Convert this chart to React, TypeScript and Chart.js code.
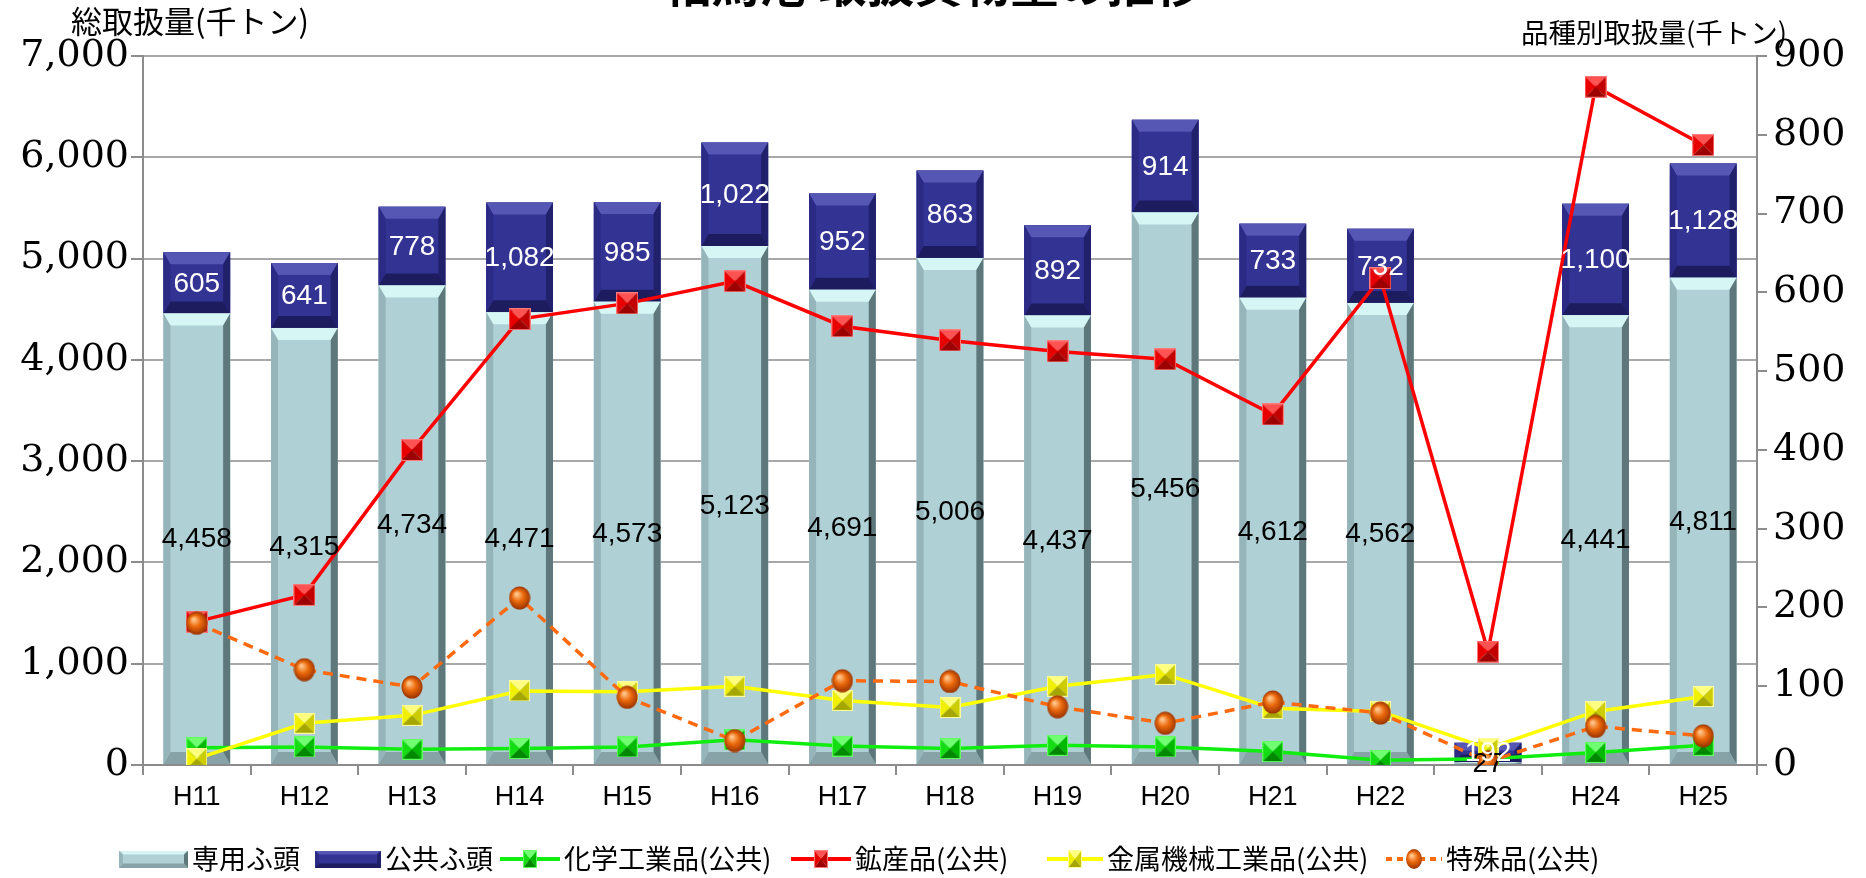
import React, { useEffect, useRef } from "react";
import { Chart, registerables } from "chart.js";

Chart.register(...registerables);

const TITLE = "相馬港 取扱貨物量の推移";
const LEFT_AXIS_TITLE = "総取扱量(千トン)";
const RIGHT_AXIS_TITLE = "品種別取扱量(千トン)";

const categories = ["H11", "H12", "H13", "H14", "H15", "H16", "H17", "H18", "H19", "H20", "H21", "H22", "H23", "H24", "H25"];
const senyoFuto = [4458, 4315, 4734, 4471, 4573, 5123, 4691, 5006, 4437, 5456, 4612, 4562, 27, 4441, 4811];
const kokyoFuto = [605, 641, 778, 1082, 985, 1022, 952, 863, 892, 914, 733, 732, 192, 1100, 1128];
const kagaku = [22, 23, 20, 21, 23, 32, 24, 21, 25, 23, 17, 6, 8, 16, 25];
const kosan = [182, 216, 400, 566, 586, 614, 557, 539, 525, 515, 445, 618, 144, 861, 787];
const kinzoku = [8, 53, 63, 94, 93, 100, 82, 73, 100, 115, 72, 68, 21, 68, 87];
const tokushu = [180, 121, 99, 212, 86, 31, 107, 106, 74, 53, 80, 66, 4, 49, 37];

const seriesNames = ["専用ふ頭", "公共ふ頭", "化学工業品(公共)", "鉱産品(公共)", "金属機械工業品(公共)", "特殊品(公共)"];

const leftMax = 7000;
const leftStep = 1000;
const rightMax = 900;
const rightStep = 100;

const SANS = "'Liberation Sans', Arial, sans-serif";
const SERIF = "'DejaVu Serif', 'Liberation Serif', serif";
const JP = "'Noto Sans CJK JP', 'Noto Sans', sans-serif";

// legend item left edges (layout only)
const LEGEND_X = [119, 315, 500, 791, 1047, 1386];

type Bevel = { face: string; top: string; left: string; right: string; bottom: string };
const TEAL: Bevel = { face: "#afd0d5", top: "#d6f6f6", left: "#95b5ba", right: "#5d777b", bottom: "#88a3a7" };
const NAVY: Bevel = { face: "#333394", top: "#5656b4", left: "#2b2b86", right: "#20206b", bottom: "#1c1c5e" };

type Pyr = { top: string; left: string; right: string; bottom: string; edge: string };
const RED_M: Pyr = { top: "#ff5252", left: "#e80000", right: "#c20000", bottom: "#9c0000", edge: "#ff7a7a" };
const GREEN_M: Pyr = { top: "#70ff70", left: "#14dd14", right: "#00b800", bottom: "#008800", edge: "#60ff60" };
const YELLOW_M: Pyr = { top: "#ffff80", left: "#f0f000", right: "#cccc00", bottom: "#a6a600", edge: "#ffff99" };

function mk(w: number, h: number) {
  const c = document.createElement("canvas");
  c.width = w;
  c.height = h;
  return c;
}

function poly(ctx: CanvasRenderingContext2D, pts: number[][], color: string) {
  ctx.beginPath();
  ctx.moveTo(pts[0][0], pts[0][1]);
  for (let i = 1; i < pts.length; i++) ctx.lineTo(pts[i][0], pts[i][1]);
  ctx.closePath();
  ctx.fillStyle = color;
  ctx.fill();
}

function drawBevel(ctx: CanvasRenderingContext2D, l: number, t: number, r: number, b: number, c: Bevel, sx0: number, sy0: number) {
  const w = r - l;
  const h = b - t;
  if (w <= 0 || h <= 0) return;
  const sx = Math.min(sx0, w / 3);
  const sy = Math.min(sy0, h / 2.5);
  ctx.fillStyle = c.face;
  ctx.fillRect(l, t, w, h);
  poly(ctx, [[l, t], [r, t], [r - sx, t + sy], [l + sx, t + sy]], c.top);
  poly(ctx, [[l, b], [r, b], [r - sx, b - sy], [l + sx, b - sy]], c.bottom);
  poly(ctx, [[l, t], [l + sx, t + sy], [l + sx, b - sy], [l, b]], c.left);
  poly(ctx, [[r, t], [r - sx, t + sy], [r - sx, b - sy], [r, b]], c.right);
}

function drawPyramid(ctx: CanvasRenderingContext2D, x: number, y: number, w: number, h: number, c: Pyr) {
  const cx = x + w / 2;
  const cy = y + h / 2;
  poly(ctx, [[x, y], [x + w, y], [cx, cy]], c.top);
  poly(ctx, [[x, y], [cx, cy], [x, y + h]], c.left);
  poly(ctx, [[x + w, y], [x + w, y + h], [cx, cy]], c.right);
  poly(ctx, [[x, y + h], [cx, cy], [x + w, y + h]], c.bottom);
  ctx.strokeStyle = c.edge;
  ctx.lineWidth = 1;
  ctx.strokeRect(x + 0.5, y + 0.5, w - 1, h - 1);
}

function pyramidMarker(c: Pyr, w: number, h: number) {
  const cv = mk(w, h);
  drawPyramid(cv.getContext("2d")!, 0, 0, w, h, c);
  return cv;
}

function drawSphere(ctx: CanvasRenderingContext2D, cx: number, cy: number, rx: number, ry: number) {
  const g = ctx.createRadialGradient(cx - rx * 0.3, cy - ry * 0.35, 1, cx, cy, Math.max(rx, ry));
  g.addColorStop(0, "#ffc58a");
  g.addColorStop(0.45, "#ec6a0c");
  g.addColorStop(1, "#983200");
  ctx.beginPath();
  ctx.ellipse(cx, cy, rx, ry, 0, 0, Math.PI * 2);
  ctx.fillStyle = g;
  ctx.fill();
}

function sphereMarker(w: number, h: number) {
  const cv = mk(w, h);
  drawSphere(cv.getContext("2d")!, w / 2, h / 2, w / 2 - 0.5, h / 2 - 0.5);
  return cv;
}

function legendBox(c: Bevel, w: number, h: number) {
  const cv = mk(w, h);
  drawBevel(cv.getContext("2d")!, 0, 0, w, h, c, 4, 4);
  return cv;
}

function legendLine(color: string, dash: number[], marker: (ctx: CanvasRenderingContext2D, cx: number, cy: number) => void, w: number, h: number) {
  const cv = mk(w, h);
  const ctx = cv.getContext("2d")!;
  ctx.strokeStyle = color;
  ctx.lineWidth = 4;
  ctx.setLineDash(dash);
  ctx.beginPath();
  ctx.moveTo(0, h / 2);
  ctx.lineTo(w, h / 2);
  ctx.stroke();
  ctx.setLineDash([]);
  marker(ctx, w / 2, h / 2);
  return cv;
}

const fmt = (v: number) => v.toLocaleString("en-US");

export default function App() {
  const ref = useRef<HTMLCanvasElement | null>(null);

  useEffect(() => {
    document.body.style.margin = "0";
    const canvas = ref.current!;

    const redM = pyramidMarker(RED_M, 22, 22);
    const greenM = pyramidMarker(GREEN_M, 21, 21);
    const yellowM = pyramidMarker(YELLOW_M, 21, 21);
    const orangeM = sphereMarker(22, 24);

    const legendImgs = [
      legendBox(TEAL, 69, 17),
      legendBox(NAVY, 66, 17),
      legendLine("#10ee10", [], (c, x, y) => drawPyramid(c, x - 7, y - 9, 14, 18, GREEN_M), 60, 24),
      legendLine("#ff0000", [], (c, x, y) => drawPyramid(c, x - 7, y - 9, 14, 18, RED_M), 60, 24),
      legendLine("#ffff00", [], (c, x, y) => drawPyramid(c, x - 7, y - 9, 14, 18, YELLOW_M), 56, 24),
      legendLine("#ff6a10", [6, 5], (c, x, y) => drawSphere(c, x, y, 8, 10), 56, 24),
    ];

    const bevelPlugin = {
      id: "bevelBars",
      afterDatasetDraw(chart: any, args: any) {
        if (args.index > 1) return;
        const ctx = chart.ctx as CanvasRenderingContext2D;
        const col = args.index === 0 ? TEAL : NAVY;
        ctx.save();
        args.meta.data.forEach((el: any) => {
          const p = el.getProps(["x", "y", "base", "width"], true);
          const l = p.x - p.width / 2;
          const r = p.x + p.width / 2;
          const t = Math.min(p.y, p.base);
          const b = Math.max(p.y, p.base);
          drawBevel(ctx, l, t, r, b, col, 7, 12);
        });
        ctx.restore();
      },
    };

    const labelPlugin = {
      id: "barLabels",
      afterDatasetsDraw(chart: any) {
        const ctx = chart.ctx as CanvasRenderingContext2D;
        ctx.save();
        ctx.font = `28px ${SANS}`;
        ctx.textAlign = "center";
        ctx.textBaseline = "middle";
        [0, 1].forEach((di) => {
          const meta = chart.getDatasetMeta(di);
          const vals = chart.data.datasets[di].data as number[];
          ctx.fillStyle = di === 0 ? "#000000" : "#ffffff";
          meta.data.forEach((el: any, i: number) => {
            const p = el.getProps(["x", "y", "base"], true);
            ctx.fillText(fmt(vals[i]), p.x, (p.y + p.base) / 2 + 1);
          });
        });
        ctx.restore();
      },
    };

    const decorPlugin = {
      id: "decor",
      afterDraw(chart: any) {
        const ctx = chart.ctx as CanvasRenderingContext2D;
        const area = chart.chartArea;
        ctx.save();
        // main title (cut by the top edge as in the reference)
        ctx.font = `bold 48px ${JP}`;
        ctx.fillStyle = "#000";
        ctx.textAlign = "center";
        ctx.textBaseline = "ideographic";
        ctx.fillText(TITLE, chart.width / 2, 8);
        // axis titles
        ctx.textBaseline = "middle";
        ctx.font = `31px ${JP}`;
        ctx.fillText(LEFT_AXIS_TITLE, 190, 21);
        ctx.font = `27.5px ${JP}`;
        ctx.fillText(RIGHT_AXIS_TITLE, 1654, 33);
        // legend
        ctx.font = `27px ${JP}`;
        ctx.textAlign = "left";
        const cy = area.bottom + 94;
        legendImgs.forEach((img, i) => {
          const x = LEGEND_X[i];
          ctx.drawImage(img, x, cy - img.height / 2);
          ctx.fillText(seriesNames[i], x + img.width + 4, cy);
        });
        ctx.restore();
      },
    };

    const chart = new Chart(canvas, {
      type: "bar",
      data: {
        labels: categories,
        datasets: [
          { type: "bar", label: seriesNames[0], data: senyoFuto, backgroundColor: TEAL.face, borderWidth: 0, yAxisID: "y", stack: "s", order: 9, barPercentage: 0.62, categoryPercentage: 1 },
          { type: "bar", label: seriesNames[1], data: kokyoFuto, backgroundColor: NAVY.face, borderWidth: 0, yAxisID: "y", stack: "s", order: 10, barPercentage: 0.62, categoryPercentage: 1 },
          { type: "line", label: seriesNames[2], data: kagaku, borderColor: "#10ee10", backgroundColor: "#10ee10", borderWidth: 3.5, pointStyle: greenM as any, pointRadius: 10, yAxisID: "y1", order: 3, tension: 0 },
          { type: "line", label: seriesNames[3], data: kosan, borderColor: "#ff0000", backgroundColor: "#ff0000", borderWidth: 3.5, pointStyle: redM as any, pointRadius: 10, yAxisID: "y1", order: 4, tension: 0 },
          { type: "line", label: seriesNames[4], data: kinzoku, borderColor: "#ffff00", backgroundColor: "#ffff00", borderWidth: 3.5, pointStyle: yellowM as any, pointRadius: 10, yAxisID: "y1", order: 2, tension: 0 },
          { type: "line", label: seriesNames[5], data: tokushu, borderColor: "#ff6a10", backgroundColor: "#ff6a10", borderWidth: 3.5, borderDash: [10, 7], pointStyle: orangeM as any, pointRadius: 10, yAxisID: "y1", order: 1, tension: 0 },
        ] as any,
      },
      options: {
        animation: false,
        responsive: false,
        devicePixelRatio: 1,
        layout: { padding: { top: 56, bottom: 48, left: 0, right: 0 } },
        plugins: { legend: { display: false }, tooltip: { enabled: false }, title: { display: false } },
        scales: {
          x: {
            stacked: true,
            grid: { display: true, drawOnChartArea: false, drawTicks: true, tickLength: 10, color: "#8c8c8c", lineWidth: 2 },
            border: { display: true, color: "#8c8c8c", width: 2 },
            ticks: { font: { family: SANS, size: 27 }, color: "#000", padding: 6 },
            afterFit: (s: any) => { s.height = 65; },
          },
          y: {
            position: "left",
            stacked: true,
            min: 0,
            max: leftMax,
            grid: { color: "#a8a8a8", lineWidth: 2, tickLength: 12, tickColor: "#8c8c8c" },
            border: { display: true, color: "#8c8c8c", width: 2 },
            ticks: { stepSize: leftStep, font: { family: SERIF, size: 38 }, color: "#000", padding: 2, callback: (v: any) => fmt(Number(v)) },
            afterFit: (s: any) => { s.width = 143; },
          },
          y1: {
            position: "right",
            min: 0,
            max: rightMax,
            grid: { drawOnChartArea: false, tickLength: 10, color: "#8c8c8c", lineWidth: 2 },
            border: { display: true, color: "#8c8c8c", width: 2 },
            ticks: { stepSize: rightStep, font: { family: SERIF, size: 38 }, color: "#000", padding: 6, callback: (v: any) => fmt(Number(v)) },
            afterFit: (s: any) => { s.width = 109; },
          },
        },
      } as any,
      plugins: [bevelPlugin, labelPlugin, decorPlugin],
    });

    return () => chart.destroy();
  }, []);

  return (
    <div style={{ width: 1866, height: 878, background: "#fff" }}>
      <canvas ref={ref} width={1866} height={878} style={{ display: "block" }} />
    </div>
  );
}
